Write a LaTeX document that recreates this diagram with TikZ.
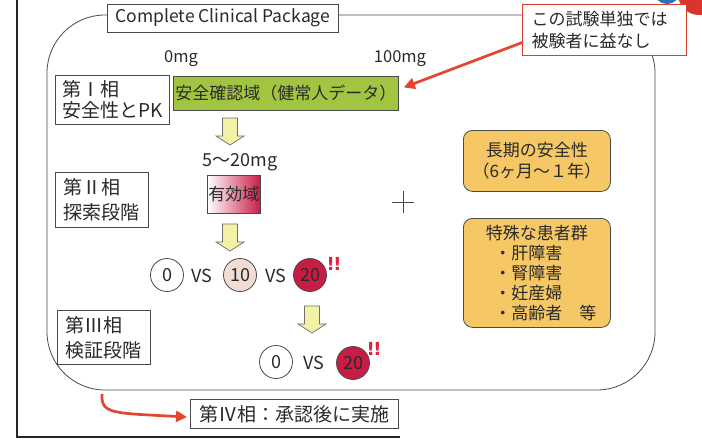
\documentclass[tikz,border=0pt]{standalone}
\usepackage{fontspec}
\setmainfont{Noto Sans CJK JP}
\newfontfamily\bangfont{DejaVu Sans}
\usetikzlibrary{calc,arrows.meta}
\definecolor{textgray}{HTML}{2A2A2A}
\definecolor{linegray}{HTML}{4A4A4A}
\definecolor{greenfill}{HTML}{A2C541}
\definecolor{orangefill}{HTML}{F5C765}
\definecolor{arrowyellow}{HTML}{F3F1A6}
\definecolor{crimson}{HTML}{C91C45}
\definecolor{peach}{HTML}{F2DDD3}
\definecolor{arrowred}{HTML}{E2462C}
\definecolor{calloutred}{HTML}{D8412F}
\definecolor{bangred}{HTML}{E3223C}
\definecolor{logoblue}{HTML}{2F6DB5}
\definecolor{logored}{HTML}{D9352B}
\begin{document}
\begin{tikzpicture}[x=1pt,y=-1pt,
  every node/.style={text=textgray, inner sep=0pt},
  phasebox/.style={draw=linegray, line width=0.7pt, fill=white, align=left, anchor=north west, inner xsep=7pt, font=\fontsize{19}{25}\selectfont},
  titlebox/.style={draw=linegray, line width=0.8pt, fill=white, minimum height=28pt, inner xsep=8pt, font=\fontsize{17.5}{20}\selectfont},
  calloutbox/.style={draw=calloutred, line width=1.2pt, fill=white, align=left, anchor=north west, text width=146pt, inner xsep=9pt, minimum height=51pt, font=\fontsize{17}{22}\selectfont},
  greenbox/.style={draw=linegray, line width=0.8pt, fill=greenfill, anchor=north west, minimum width=225pt, minimum height=34pt, font=\fontsize{17}{20}\selectfont},
  effbox/.style={draw=linegray, line width=0.8pt, left color=white, right color=crimson, anchor=north west, minimum width=53pt, minimum height=38pt, font=\fontsize{17}{20}\selectfont},
  orangebox/.style={draw=linegray, line width=0.8pt, fill=orangefill, rounded corners=9pt, align=center, anchor=north west, minimum width=147pt, font=\fontsize{17}{21}\selectfont},
  numcirc/.style={circle, draw=linegray, line width=0.8pt, minimum size=33pt, font=\fontsize{18}{18}\selectfont},
  vs/.style={font=\fontsize{18}{18}\selectfont},
  mg/.style={font=\fontsize{16.5}{18}\selectfont},
  bang/.style={text=bangred, font=\bangfont\bfseries\fontsize{18}{18}\selectfont},
  redarrow/.style={arrowred, line width=2.7pt, -{Triangle[length=11pt,width=11pt]}},
  fatdown/.pic={\draw[fill=arrowyellow, draw=linegray!80, line width=0.7pt]
     (-7.5,0) -- (7.5,0) -- (7.5,18) -- (14,18) -- (0,27) -- (-14,18) -- (-7.5,18) -- cycle;}
]
\useasboundingbox (0,0) rectangle (702,440);
\fill[white] (0,0) rectangle (702,440);

% logo fragments at top right
\begin{scope}
  \clip (0,0) rectangle (702,440);
  \fill[logoblue] (667,-9) circle (13);
  \fill[logored] (699,-6) circle (21);
  \fill[orangefill!60] (700,-9) circle (9);
\end{scope}

% outer frame
\draw[black!85, line width=2.6pt] (17,0) -- (17,437) -- (400,437);

% main rounded panel
\draw[linegray, line width=0.8pt, rounded corners=58pt] (47,15) rectangle (655,390);

% title and callout
\node[titlebox, anchor=west] (title) at (107,18) {Complete Clinical Package};
\node[calloutbox] (callout) at (522,4) {この試験単独では\\被験者に益なし};

% dose labels and safety range
\node[mg] (mg0) at (181,59) {0mg};
\node[mg] (mg100) at (400,59) {100mg};
\node[greenbox] (green) at (173,76) {安全確認域（健常人データ）};
\draw[redarrow] ($(callout.south west)+(1,-14)$) -- ($(green.east)+(5,-6)$);

% phase labels
\node[phasebox, minimum width=112pt, minimum height=49pt, font=\fontsize{19}{21}\selectfont] (p1) at (55,75) {第Ⅰ相\\安全性とPK};
\node[phasebox, minimum width=93pt, minimum height=55pt] (p2) at (55,172) {第Ⅱ相\\探索段階};
\node[phasebox, minimum width=93pt, minimum height=54pt] (p3) at (57,310) {第Ⅲ相\\検証段階};
\node[phasebox, anchor=west, minimum width=208pt, minimum height=29pt] (p4) at (190,414) {第Ⅳ相：承認後に実施};

% flow arrows
\pic at (230,118) {fatdown};
\node[font=\fontsize{18}{20}\selectfont] (range) at (240,162) {5～20mg};
\node[effbox] (eff) at (207,175) {有効域};
\pic at (230,224) {fatdown};

% phase II comparison
\node[numcirc] (c0a) at (167,275) {0};
\node[vs] (vs1) at (202,276) {VS};
\node[numcirc, fill=peach] (c10) at (240,275) {10};
\node[vs] (vs2) at (276,276) {VS};
\node[numcirc, fill=crimson] (c20a) at (310,275) {20};
\node[bang] (bang1) at (334,264) {!\kern-1.5pt!};

\pic at (312,306) {fatdown};

% phase III comparison
\node[numcirc] (c0b) at (276,362) {0};
\node[vs] (vs3) at (314,363) {VS};
\node[numcirc, fill=crimson] (c20b) at (353,363) {20};
\node[bang] (bang2) at (374,349) {!\kern-1.5pt!};

% phase IV arrow
\coordinate (cstart) at (102,394);
\draw[redarrow] (cstart) .. controls (101,414) and (112,413) .. ($(p4.west)+(-3,3)$);

% plus sign
\coordinate (plus) at (403,202);
\draw[linegray, line width=1pt] ($(plus)+(-11,0)$) -- ($(plus)+(11,0)$)
                                ($(plus)+(0,-11)$) -- ($(plus)+(0,11)$);

% right boxes
\node[orangebox, minimum height=61pt] (ob1) at (463,130) {長期の安全性\\（6ヶ月～１年）};
\node[orangebox, minimum height=109pt, font=\fontsize{17}{20}\selectfont] (ob2) at (463,218)
  {特殊な患者群\\\makebox[5em][l]{・肝障害}\\\makebox[5em][l]{・腎障害}\\\makebox[5em][l]{・妊産婦}\\\makebox[5em][l]{・高齢者　等}};
\end{tikzpicture}
\end{document}
